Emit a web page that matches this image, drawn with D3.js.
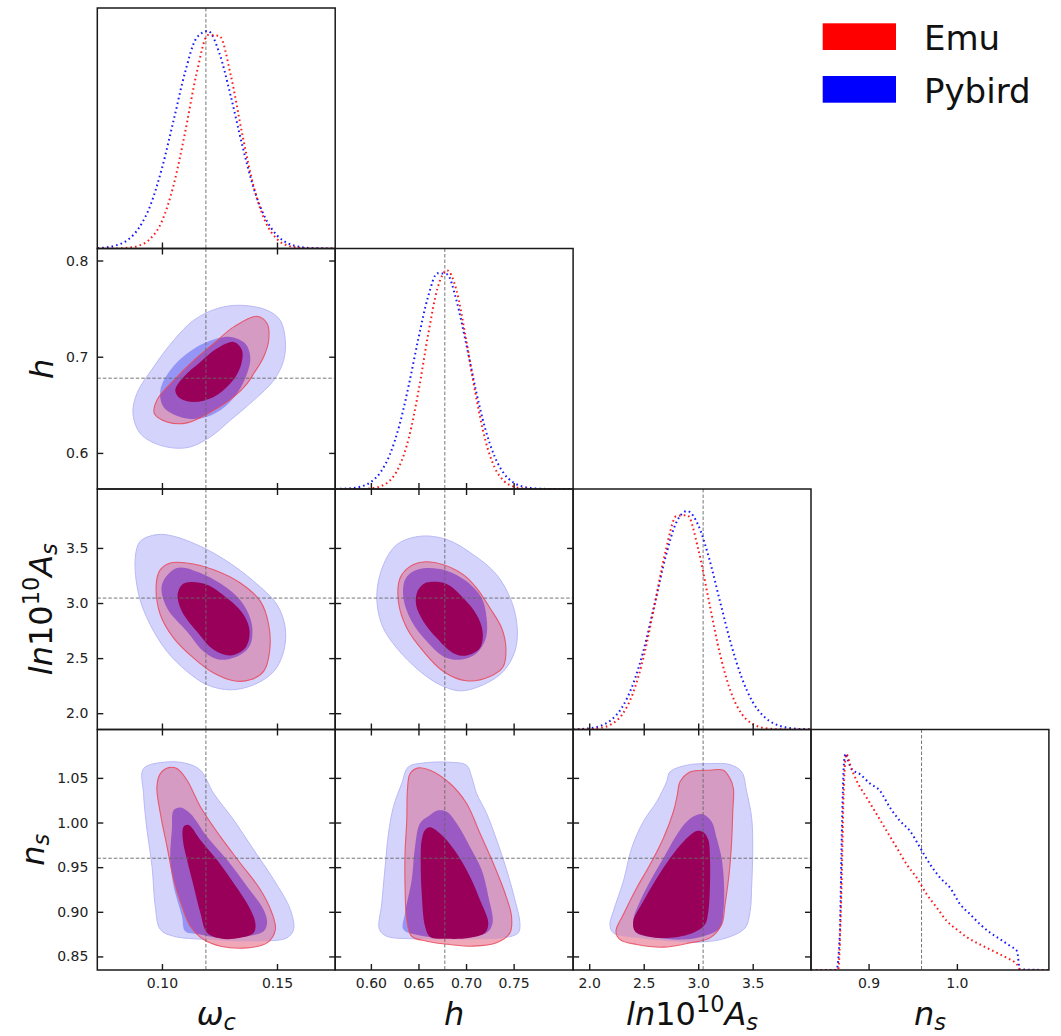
<!DOCTYPE html>
<html><head><meta charset="utf-8">
<script src="https://cdn.jsdelivr.net/npm/d3@7"></script>
<style>body{margin:0;background:#fff;} svg{display:block;}</style>
</head><body><svg id="c" width="1061" height="1036"></svg>
<script>
// ---------- data ----------
const paramKeys = ["omegac", "h", "lnAs", "ns"];
const paramDomains = [[0.0719, 0.1753], [0.5625, 0.8125], [1.852, 4.035], [0.8348, 1.1042]];
const truthValues = [0.1191, 0.6777, 3.045, 0.96];
const xTickValues = [[0.10, 0.15], [0.60, 0.65, 0.70, 0.75], [2.0, 2.5, 3.0, 3.5], [0.9, 1.0]];
const xTickFormats = [".2f", ".2f", ".1f", ".1f"];
const yTickValues = [[], [0.6, 0.7, 0.8], [2.0, 2.5, 3.0, 3.5], [0.85, 0.90, 0.95, 1.00, 1.05]];
const yTickFormats = ["", ".1f", ".1f", ".2f"];
const seriesNames = ["Emu", "Pybird"];

const labelOmc = [{t: "ω", it: 1}, {t: "c", it: 1, sub: 1}];
const labelH = [{t: "h", it: 1}];
const labelAs = [{t: "ln", it: 1}, {t: "10"}, {t: "10", sup: 1}, {t: "A", it: 1}, {t: "s", it: 1, sub: 1}];
const labelNs = [{t: "n", it: 1}, {t: "s", it: 1, sub: 1}];

// 1D marginals (normalised density)
const omcGrid = [0.072, 0.075, 0.08, 0.085, 0.09, 0.095, 0.10, 0.105, 0.11, 0.115, 0.12, 0.125, 0.13, 0.135, 0.14, 0.145, 0.15, 0.155, 0.16, 0.165, 0.17, 0.175];
const omcEmu =    [0, 0, 0, 0.003, 0.013, 0.045, 0.125, 0.287, 0.528, 0.798, 0.976, 0.972, 0.788, 0.518, 0.278, 0.122, 0.043, 0.012, 0.003, 0, 0, 0];
const omcPybird = [0.002, 0.004, 0.014, 0.038, 0.094, 0.198, 0.367, 0.583, 0.804, 0.962, 0.995, 0.892, 0.693, 0.468, 0.272, 0.138, 0.060, 0.023, 0.0075, 0.002, 0.0005, 0];

const hGrid = [0.5625, 0.57, 0.58, 0.59, 0.60, 0.61, 0.62, 0.63, 0.64, 0.65, 0.66, 0.67, 0.68, 0.69, 0.70, 0.71, 0.72, 0.73, 0.74, 0.75, 0.76, 0.77, 0.78, 0.79, 0.80, 0.8125];
const hEmu =    [0, 0, 0, 0, 0.003, 0.012, 0.039, 0.105, 0.236, 0.447, 0.702, 0.918, 1.0, 0.908, 0.685, 0.434, 0.228, 0.099, 0.036, 0.011, 0.003, 0, 0, 0, 0, 0];
const hPybird = [0, 0.0011, 0.0039, 0.0118, 0.032, 0.076, 0.158, 0.292, 0.478, 0.690, 0.878, 0.987, 0.982, 0.861, 0.667, 0.458, 0.278, 0.149, 0.070, 0.029, 0.011, 0.0035, 0.001, 0, 0, 0];

const asGrid = [1.852, 1.9, 2.0, 2.1, 2.2, 2.3, 2.4, 2.5, 2.6, 2.7, 2.8, 2.9, 3.0, 3.1, 3.2, 3.3, 3.4, 3.5, 3.6, 3.7, 3.8, 3.9, 4.0, 4.035];
const asEmu =    [0, 0.0003, 0.0016, 0.0068, 0.023, 0.067, 0.164, 0.334, 0.569, 0.814, 0.976, 0.980, 0.826, 0.583, 0.345, 0.171, 0.071, 0.025, 0.0072, 0.0018, 0.0004, 0, 0, 0];
const asPybird = [0, 0.0015, 0.0053, 0.016, 0.043, 0.100, 0.205, 0.365, 0.575, 0.788, 0.948, 0.999, 0.935, 0.783, 0.586, 0.393, 0.236, 0.126, 0.061, 0.026, 0.010, 0.0034, 0.001, 0];

const nsEmu = [[0.8348,0],[0.8655,0],[0.8693,0.376],[0.8719,0.835],[0.875,0.988],[0.8788,0.942],[0.8864,0.866],[0.8977,0.789],[0.9091,0.713],[0.9205,0.636],[0.9318,0.56],[0.9432,0.483],[0.9545,0.422],[0.9659,0.346],[0.9773,0.285],[0.9886,0.224],[1.0,0.185],[1.0114,0.15],[1.0227,0.124],[1.034,0.101],[1.0455,0.078],[1.0568,0.055],[1.0682,0.024],[1.072,0],[1.1042,0]];
const nsPybird = [[0.8348,0],[0.8636,0],[0.8674,0.162],[0.870,0.68],[0.8723,0.957],[0.8739,0.99],[0.8768,0.957],[0.8807,0.919],[0.8901,0.896],[0.9015,0.853],[0.9128,0.82],[0.9242,0.743],[0.9356,0.682],[0.9469,0.636],[0.9583,0.56],[0.9697,0.483],[0.981,0.422],[0.9924,0.376],[1.0038,0.3],[1.015,0.255],[1.0265,0.208],[1.038,0.17],[1.0492,0.14],[1.0606,0.109],[1.0682,0.086],[1.0712,0.003],[1.1042,0]];

// 2D contours (68% / 95%), [x, y] in parameter units
const hOmc_pybird95 = [[0.1341,0.7535],[0.1457,0.7483],[0.1514,0.7379],[0.1536,0.7171],[0.1529,0.6963],[0.1486,0.6755],[0.1399,0.6547],[0.1297,0.6339],[0.1210,0.6166],[0.1109,0.6055],[0.0993,0.6079],[0.0906,0.6201],[0.0874,0.6409],[0.0891,0.6617],[0.0964,0.6894],[0.1051,0.7171],[0.1138,0.7379],[0.1239,0.7500]];
const hOmc_emu95 = [[0.1413,0.7421],[0.1457,0.7345],[0.1464,0.7171],[0.1442,0.6998],[0.1399,0.6825],[0.1370,0.6721],[0.1312,0.6582],[0.1225,0.6443],[0.1109,0.6312],[0.1022,0.6322],[0.0967,0.6409],[0.0978,0.6547],[0.1051,0.6755],[0.1138,0.6963],[0.1225,0.7137],[0.1312,0.7310]];
const hOmc_pybird68 = [[0.1297,0.7206],[0.1362,0.7137],[0.1384,0.6998],[0.1370,0.6825],[0.1326,0.6617],[0.1254,0.6443],[0.1167,0.6357],[0.1080,0.6374],[0.1007,0.6478],[0.0993,0.6652],[0.1036,0.6859],[0.1109,0.7033],[0.1196,0.7154]];
const hOmc_emu68 = [[0.1312,0.7154],[0.1348,0.7068],[0.1341,0.6894],[0.1297,0.6721],[0.1225,0.6582],[0.1138,0.6530],[0.1080,0.6565],[0.1058,0.6652],[0.1094,0.6790],[0.1167,0.6946],[0.1239,0.7085]];

const asOmc_pybird95 = [[0.0978,3.621],[0.1051,3.606],[0.1167,3.515],[0.1283,3.379],[0.1399,3.197],[0.1500,2.985],[0.1536,2.773],[0.1529,2.561],[0.1486,2.379],[0.1399,2.258],[0.1297,2.212],[0.1196,2.258],[0.1109,2.379],[0.1022,2.561],[0.0949,2.803],[0.0899,3.076],[0.0884,3.409],[0.0906,3.561]];
const asOmc_emu95 = [[0.1036,3.364],[0.1109,3.364],[0.1225,3.303],[0.1341,3.182],[0.1428,3.015],[0.1464,2.803],[0.1468,2.561],[0.1442,2.379],[0.1384,2.303],[0.1312,2.294],[0.1225,2.364],[0.1138,2.500],[0.1051,2.682],[0.0993,2.894],[0.0975,3.167],[0.0993,3.303]];
const asOmc_pybird68 = [[0.1065,3.318],[0.1167,3.273],[0.1283,3.136],[0.1355,2.985],[0.1391,2.803],[0.1384,2.621],[0.1341,2.530],[0.1254,2.485],[0.1181,2.561],[0.1109,2.742],[0.1022,2.955],[0.1000,3.167]];
const asOmc_emu68 = [[0.1123,3.191],[0.1196,3.167],[0.1283,3.045],[0.1355,2.894],[0.1381,2.742],[0.1362,2.591],[0.1297,2.524],[0.1225,2.576],[0.1152,2.742],[0.1087,2.924],[0.1068,3.076],[0.1087,3.167]];

const asH_pybird95 = [[0.6517,3.606],[0.6797,3.576],[0.7076,3.439],[0.7321,3.258],[0.7478,3.015],[0.7538,2.773],[0.7513,2.561],[0.7391,2.379],[0.7181,2.258],[0.6936,2.203],[0.6727,2.258],[0.6517,2.379],[0.6272,2.591],[0.6115,2.803],[0.6062,3.076],[0.6132,3.348],[0.6272,3.530]];
const asH_emu95 = [[0.6552,3.373],[0.6762,3.348],[0.6971,3.258],[0.7111,3.136],[0.7251,2.955],[0.7374,2.773],[0.7419,2.591],[0.7391,2.424],[0.7251,2.333],[0.7006,2.294],[0.6762,2.379],[0.6552,2.561],[0.6377,2.773],[0.6289,3.015],[0.6307,3.227],[0.6412,3.333]];
const asH_pybird68 = [[0.6587,3.318],[0.6797,3.294],[0.7006,3.197],[0.7164,3.045],[0.7216,2.864],[0.7209,2.682],[0.7111,2.545],[0.6936,2.485],[0.6762,2.515],[0.6587,2.652],[0.6429,2.833],[0.6342,3.045],[0.6359,3.212],[0.6447,3.288]];
const asH_emu68 = [[0.6622,3.191],[0.6797,3.173],[0.6971,3.045],[0.7111,2.894],[0.7174,2.742],[0.7146,2.591],[0.7006,2.524],[0.6866,2.545],[0.6692,2.682],[0.6552,2.833],[0.6475,2.985],[0.6489,3.106],[0.6552,3.173]];

const nsOmc_pybird95 = [[0.0920,1.0604],[0.1022,1.0678],[0.1109,1.0660],[0.1167,1.0586],[0.1225,1.0325],[0.1312,1.0028],[0.1399,0.9693],[0.1486,0.9359],[0.1558,0.9024],[0.1572,0.8801],[0.1543,0.8708],[0.1428,0.8671],[0.1312,0.8671],[0.1196,0.8689],[0.1051,0.8726],[0.0993,0.8801],[0.0971,0.9061],[0.0957,0.9507],[0.0935,0.9916],[0.0920,1.0325]];
const nsOmc_emu95 = [[0.0993,1.0548],[0.1029,1.0615],[0.1065,1.0604],[0.1109,1.0474],[0.1167,1.0177],[0.1254,0.9842],[0.1341,0.9544],[0.1428,0.9247],[0.1478,0.8987],[0.1493,0.8801],[0.1457,0.8652],[0.1370,0.8596],[0.1254,0.8615],[0.1181,0.8689],[0.1123,0.8838],[0.1087,0.9061],[0.1051,0.9359],[0.1022,0.9730],[0.0993,1.0102],[0.0978,1.0400]];
const nsOmc_pybird68 = [[0.1051,1.0139],[0.1080,1.0169],[0.1123,1.0102],[0.1196,0.9842],[0.1283,0.9582],[0.1370,0.9284],[0.1442,0.9024],[0.1457,0.8875],[0.1442,0.8782],[0.1370,0.8726],[0.1254,0.8708],[0.1167,0.8745],[0.1101,0.8782],[0.1087,0.8950],[0.1051,0.9284],[0.1036,0.9582],[0.1043,0.9916]];
const nsOmc_emu68 = [[0.1094,0.9953],[0.1116,0.9972],[0.1167,0.9805],[0.1239,0.9582],[0.1312,0.9321],[0.1377,0.9061],[0.1406,0.8875],[0.1399,0.8764],[0.1341,0.8708],[0.1254,0.8700],[0.1196,0.8764],[0.1167,0.8987],[0.1138,0.9284],[0.1109,0.9582],[0.1091,0.9805]];

const nsH_pybird95 = [[0.6394,1.0623],[0.6552,1.0667],[0.6832,1.0675],[0.7006,1.0641],[0.7059,1.0511],[0.7111,1.0325],[0.7216,1.0102],[0.7321,0.9805],[0.7426,0.9470],[0.7513,0.9135],[0.7566,0.8875],[0.7548,0.8764],[0.7391,0.8708],[0.7041,0.8689],[0.6727,0.8689],[0.6447,0.8697],[0.6167,0.8726],[0.6090,0.8801],[0.6115,0.9098],[0.6150,0.9507],[0.6185,0.9879],[0.6237,1.0177],[0.6324,1.0437]];
const nsH_emu95 = [[0.6412,1.0548],[0.6499,1.0612],[0.6622,1.0586],[0.6832,1.0437],[0.7006,1.0214],[0.7146,0.9879],[0.7286,0.9544],[0.7409,0.9210],[0.7478,0.8950],[0.7461,0.8764],[0.7321,0.8652],[0.7076,0.8615],[0.6832,0.8633],[0.6587,0.8671],[0.6429,0.8726],[0.6377,0.8912],[0.6359,0.9284],[0.6359,0.9656],[0.6377,1.0028],[0.6384,1.0362]];
const nsH_pybird68 = [[0.6622,1.0084],[0.6692,1.0132],[0.6797,1.0121],[0.6901,0.9991],[0.7041,0.9730],[0.7164,0.9470],[0.7234,0.9173],[0.7279,0.8875],[0.7216,0.8764],[0.7041,0.8726],[0.6762,0.8708],[0.6517,0.8734],[0.6342,0.8801],[0.6359,0.8987],[0.6429,0.9359],[0.6464,0.9730],[0.6517,0.9991]];
const nsH_emu68 = [[0.6569,0.9916],[0.6622,0.9946],[0.6762,0.9842],[0.6901,0.9656],[0.7041,0.9396],[0.7146,0.9135],[0.7234,0.8875],[0.7199,0.8764],[0.7041,0.8708],[0.6797,0.8697],[0.6622,0.8719],[0.6569,0.8838],[0.6534,0.9210],[0.6524,0.9544],[0.6534,0.9805]];

const nsAs_pybird95 = [[2.741,1.0567],[2.894,1.0642],[3.108,1.0660],[3.292,1.0649],[3.399,1.0567],[3.445,1.0344],[3.491,1.0047],[3.500,0.9675],[3.491,0.9303],[3.476,0.9005],[3.430,0.8819],[3.261,0.8708],[3.047,0.8663],[2.741,0.8671],[2.435,0.8708],[2.221,0.8764],[2.190,0.8857],[2.221,0.9005],[2.313,0.9340],[2.389,0.9712],[2.496,1.0010],[2.619,1.0233],[2.710,1.0456]];
const nsAs_emu95 = [[2.833,1.0456],[2.925,1.0567],[3.108,1.0586],[3.231,1.0586],[3.292,1.0493],[3.323,1.0381],[3.317,1.0121],[3.307,0.9787],[3.286,0.9452],[3.246,0.9080],[3.215,0.8857],[3.108,0.8708],[2.925,0.8652],[2.680,0.8604],[2.435,0.8634],[2.282,0.8689],[2.245,0.8782],[2.313,0.8969],[2.435,0.9266],[2.557,0.9526],[2.680,0.9824],[2.772,1.0121],[2.808,1.0307]];
const nsAs_pybird68 = [[2.986,1.0084],[3.047,1.0091],[3.124,1.0010],[3.170,0.9824],[3.215,0.9601],[3.237,0.9303],[3.231,0.9005],[3.200,0.8819],[3.047,0.8726],[2.864,0.8689],[2.619,0.8708],[2.435,0.8764],[2.404,0.8894],[2.466,0.9117],[2.557,0.9340],[2.680,0.9601],[2.802,0.9861],[2.894,1.0010]];
const nsAs_emu68 = [[2.986,0.9905],[3.047,0.9890],[3.093,0.9805],[3.108,0.9600],[3.108,0.9303],[3.093,0.9005],[3.062,0.8857],[2.955,0.8764],[2.741,0.8708],[2.527,0.8727],[2.420,0.8782],[2.404,0.8894],[2.496,0.9117],[2.619,0.9377],[2.741,0.9600],[2.864,0.9786]];

// ---------- tables built from the arrays ----------
const axisLabels = [labelOmc, labelH, labelAs, labelNs];
const marginals = [
  {emu: omcGrid.map((x, i) => [x, omcEmu[i]]), pybird: omcGrid.map((x, i) => [x, omcPybird[i]])},
  {emu: hGrid.map((x, i) => [x, hEmu[i]]), pybird: hGrid.map((x, i) => [x, hPybird[i]])},
  {emu: asGrid.map((x, i) => [x, asEmu[i]]), pybird: asGrid.map((x, i) => [x, asPybird[i]])},
  {emu: nsEmu, pybird: nsPybird}
];
const contourPanels = [
  {row: 1, col: 0, py95: hOmc_pybird95, py68: hOmc_pybird68, em95: hOmc_emu95, em68: hOmc_emu68},
  {row: 2, col: 0, py95: asOmc_pybird95, py68: asOmc_pybird68, em95: asOmc_emu95, em68: asOmc_emu68},
  {row: 2, col: 1, py95: asH_pybird95, py68: asH_pybird68, em95: asH_emu95, em68: asH_emu68},
  {row: 3, col: 0, py95: nsOmc_pybird95, py68: nsOmc_pybird68, em95: nsOmc_emu95, em68: nsOmc_emu68},
  {row: 3, col: 1, py95: nsH_pybird95, py68: nsH_pybird68, em95: nsH_emu95, em68: nsH_emu68},
  {row: 3, col: 2, py95: nsAs_pybird95, py68: nsAs_pybird68, em95: nsAs_emu95, em68: nsAs_emu68}
];

// ---------- layout / style ----------
const LEFT = 97.3, TOP = 8, PW = 237.9, PH = 240.5;
const FONT = "DejaVu Sans";
const C = {
  pyOuter: "#d3d3fb", pyInner: "#9595f5",
  emOuterAlone: "#f0a8b8", emOverPyOuter: "#d59bc3", emOverPyInner: "#9b5ac3",
  emInner: "#99005a", emEdge: "#ea4a5c", pyEdge: "#b9b9f6",
  red: "#ff0000", blue: "#0000ff", spine: "#1a1a1a", text: "#222"
};

const svg = d3.select("#c");
const defs = svg.append("defs");

function mathText(sel, parts, size) {
  let shift = 0;
  parts.forEach(p => {
    const target = p.sub ? size * 0.17 : p.sup ? -size * 0.42 : 0;
    sel.append("tspan").text(p.t)
      .attr("font-style", p.it ? "italic" : "normal")
      .attr("font-size", (p.sub || p.sup) ? size * 0.7 : size)
      .attr("dy", target - shift);
    shift = target;
  });
}

function xScale(col) { return d3.scaleLinear().domain(paramDomains[col]).range([0, PW]); }
function yScale(row) { return d3.scaleLinear().domain(paramDomains[row]).range([PH, 0]); }

function styleAxis(g) {
  g.select(".domain").remove();
  g.selectAll(".tick line").attr("stroke", C.spine).attr("stroke-width", 1.4);
  g.selectAll(".tick text").attr("font-family", FONT).attr("font-size", 14).attr("fill", C.text);
  g.attr("font-family", FONT);
}

function panel(row, col) {
  const g = svg.append("g").attr("transform", `translate(${LEFT + col * PW},${TOP + row * PH})`);
  const id = `clip-${row}-${col}`;
  defs.append("clipPath").attr("id", id).append("rect").attr("width", PW).attr("height", PH);
  const body = g.append("g").attr("clip-path", `url(#${id})`);
  return {g, body};
}

// ---------- diagonal panels ----------
for (let k = 0; k < 4; k++) {
  const {g, body} = panel(k, k);
  const x = xScale(k);
  const y = d3.scaleLinear().domain([0, 1.1]).range([PH, 0]);
  const line = d3.line().x(d => x(d[0])).y(d => y(d[1])).curve(d3.curveMonotoneX);
  body.append("line").attr("x1", x(truthValues[k])).attr("x2", x(truthValues[k]))
    .attr("y1", 0).attr("y2", PH).attr("stroke", "#666").attr("stroke-width", 0.9).attr("stroke-dasharray", "3.5,2");
  [["pybird", C.blue], ["emu", C.red]].forEach(([key, col]) => {
    body.append("path").attr("d", line(marginals[k][key])).attr("fill", "none")
      .attr("stroke", col).attr("stroke-width", 2).attr("stroke-dasharray", "1.6,3.1").attr("opacity", 0.9);
  });
  const ax = g.append("g").attr("transform", `translate(0,${PH})`)
    .call(d3.axisBottom(x).tickValues(xTickValues[k]).tickSize(-6).tickPadding(8)
      .tickFormat(k === 3 ? d3.format(xTickFormats[k]) : () => ""));
  styleAxis(ax);
  g.append("rect").attr("width", PW).attr("height", PH).attr("fill", "none")
    .attr("stroke", C.spine).attr("stroke-width", 1.5);
}

// ---------- off-diagonal panels ----------
contourPanels.forEach(p => {
  const {g, body} = panel(p.row, p.col);
  const x = xScale(p.col), y = yScale(p.row);
  const shape = d3.line().x(d => x(d[0])).y(d => y(d[1])).curve(d3.curveCatmullRomClosed.alpha(0.5));
  const roId = `ro-${p.row}-${p.col}`;
  defs.append("clipPath").attr("id", roId).append("path").attr("d", shape(p.em95));

  body.append("path").attr("d", shape(p.py95)).attr("fill", C.pyOuter).attr("stroke", C.pyEdge).attr("stroke-width", 1);
  body.append("path").attr("d", shape(p.py68)).attr("fill", C.pyInner);
  body.append("path").attr("d", shape(p.em95)).attr("fill", C.emOuterAlone);
  body.append("g").attr("clip-path", `url(#${roId})`).append("path").attr("d", shape(p.py95)).attr("fill", C.emOverPyOuter);
  body.append("g").attr("clip-path", `url(#${roId})`).append("path").attr("d", shape(p.py68)).attr("fill", C.emOverPyInner);
  body.append("path").attr("d", shape(p.em68)).attr("fill", C.emInner);
  body.append("path").attr("d", shape(p.em95)).attr("fill", "none").attr("stroke", C.emEdge).attr("stroke-width", 1.1).attr("opacity", 0.85);

  const dash = {stroke: "#666", w: 0.9, da: "3.5,2"};
  body.append("line").attr("x1", x(truthValues[p.col])).attr("x2", x(truthValues[p.col])).attr("y1", 0).attr("y2", PH)
    .attr("stroke", dash.stroke).attr("stroke-width", dash.w).attr("stroke-dasharray", dash.da);
  body.append("line").attr("y1", y(truthValues[p.row])).attr("y2", y(truthValues[p.row])).attr("x1", 0).attr("x2", PW)
    .attr("stroke", dash.stroke).attr("stroke-width", dash.w).attr("stroke-dasharray", dash.da);

  const xt = xTickValues[p.col], yt = yTickValues[p.row];
  styleAxis(g.append("g").attr("transform", `translate(0,${PH})`)
    .call(d3.axisBottom(x).tickValues(xt).tickSize(-6).tickPadding(8)
      .tickFormat(p.row === 3 ? d3.format(xTickFormats[p.col]) : () => "")));
  styleAxis(g.append("g").call(d3.axisTop(x).tickValues(xt).tickSize(-6).tickFormat(() => "")));
  styleAxis(g.append("g").call(d3.axisLeft(y).tickValues(yt).tickSize(-6).tickPadding(9)
      .tickFormat(p.col === 0 ? d3.format(yTickFormats[p.row]) : () => "")));
  styleAxis(g.append("g").attr("transform", `translate(${PW},0)`)
    .call(d3.axisRight(y).tickValues(yt).tickSize(-6).tickFormat(() => "")));
  g.append("rect").attr("width", PW).attr("height", PH).attr("fill", "none")
    .attr("stroke", C.spine).attr("stroke-width", 1.5);
});

// ---------- axis titles ----------
const TITLE = 32;
axisLabels.forEach((lab, k) => {
  const t = svg.append("text").attr("x", LEFT + (k + 0.5) * PW).attr("y", 1025)
    .attr("text-anchor", "middle").attr("font-family", FONT).attr("font-size", TITLE).attr("fill", "#111");
  mathText(t, lab, TITLE);
});
const yLabelBase = [0, 53, 52, 44];
[1, 2, 3].forEach(k => {
  const t = svg.append("text").attr("transform", `translate(${yLabelBase[k]},${TOP + (k + 0.5) * PH}) rotate(-90)`)
    .attr("text-anchor", "middle").attr("font-family", FONT).attr("font-size", TITLE).attr("fill", "#111");
  mathText(t, axisLabels[k], TITLE);
});

// ---------- legend ----------
const legend = svg.append("g");
[[seriesNames[0], C.red, 23.3], [seriesNames[1], C.blue, 76]].forEach(([name, col, yy]) => {
  legend.append("rect").attr("x", 822.7).attr("y", yy).attr("width", 73.3).attr("height", 26.7).attr("fill", col);
  legend.append("text").attr("x", 924).attr("y", yy + 26.5).attr("font-family", FONT)
    .attr("font-size", 34).attr("fill", "#111").text(name);
});
</script></body></html>
